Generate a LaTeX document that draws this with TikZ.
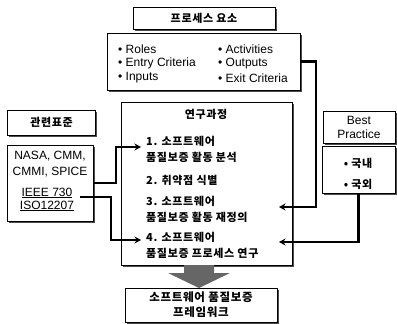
\documentclass[tikz,border=0pt]{standalone}
\usepackage{fontspec}
\setmainfont{Liberation Sans}
\newfontfamily\kr[LetterSpace=6]{Noto Sans CJK KR}
\usetikzlibrary{shadows,arrows.meta}
\begin{document}
\begin{tikzpicture}[x=1pt,y=-1pt,
 box/.style={draw=black, line width=0.7pt, fill=white, inner sep=0pt,
   general shadow={fill=black!70, shadow xshift=1.5pt, shadow yshift=-1.5pt}},
 conn/.style={line width=2.2pt, -{Stealth[length=6.5pt,width=7pt]}},
 txt/.style={font=\fontsize{12}{14}\selectfont, inner sep=0pt},
 ktxt/.style={font=\kr\bfseries\fontsize{11}{13}\selectfont, inner sep=0pt},
]
\useasboundingbox (0,0) rectangle (397,324);
% top boxes
\node[box, ktxt, minimum width=142pt, minimum height=22pt] (pe) at (204,18) {프로세스 요소};
\node[box, minimum width=193pt, minimum height=57pt] (el) at (203.5,61.5) {};
\node[txt, anchor=west] (e1) at (118,49) {• Roles};
\node[txt, anchor=west] (e2) at (118,63.5) {• Entry Criteria};
\node[txt, anchor=west] (e3) at (118,78) {• Inputs};
\node[txt, anchor=west] (e4) at (218,49) {• Activities};
\node[txt, anchor=west] (e5) at (218,63.5) {• Outputs};
\node[txt, anchor=west] (e6) at (218,78) {• Exit Criteria};
% research box
\node[box, minimum width=171pt, minimum height=163pt] (rp) at (206.5,183.5) {};
\node[ktxt] (rt) at (206,114) {연구과정};
\node[ktxt, anchor=west] (r1) at (146,141) {1. 소프트웨어};
\node[ktxt, anchor=west] (r1b) at (146,157) {품질보증 활동 분석};
\node[ktxt, anchor=west] (r2) at (146,180) {2. 취약점 식별};
\node[ktxt, anchor=west] (r3) at (146,201) {3. 소프트웨어};
\node[ktxt, anchor=west] (r3b) at (146,217) {품질보증 활동 재정의};
\node[ktxt, anchor=west] (r4) at (146,237) {4. 소프트웨어};
\node[ktxt, anchor=west] (r4b) at (146,253) {품질보증 프로세스 연구};
% left boxes
\node[box, ktxt, minimum width=88pt, minimum height=25pt] (rs) at (51.5,122.5) {관련표준};
\node[box, minimum width=86pt, minimum height=76pt] (std) at (50,183) {};
\node[txt] (s1) at (50,156) {NASA, CMM,};
\node[txt] (s2) at (50,172) {CMMI, SPICE};
\node[txt] (s3) at (47,193) {\underline{IEEE 730}};
\node[txt] (s4) at (47,206) {\underline{ISO12207}};
% right boxes
\node[box, minimum width=72pt, minimum height=32pt, align=center, txt] (bp) at (359,127) {Best\\[0pt]Practice};
\node[box, minimum width=73pt, minimum height=47pt] (kd) at (358.5,169.5) {};
\node[ktxt] (k1) at (358,163) {• 국내};
\node[ktxt] (k2) at (358,184) {• 국외};
% bottom box
\node[box, minimum width=152pt, minimum height=34pt, align=center, font=\kr\bfseries\fontsize{11.5}{15}\selectfont] (fw) at (201,305) {소프트웨어 품질보증\\프레임워크};
% connectors
\coordinate (ieee) at (80,197);
\coordinate (t1) at (141,147);
\coordinate (t2) at (141,240);
\coordinate (t3) at (279,207);
\coordinate (t4) at (279,242);
\draw[conn] (std.east) -| (116,147) -- (t1);
\draw[conn] (ieee) -| (111,240) -- (t2);
\draw[conn] (el.east) -| (316,207) -- (t3);
\draw[conn] (kd.south) |- (t4);
% big arrow
\fill[black!60] (184,265) -- (214,265) -- (214,273) -- (230,273) -- (199,288) -- (168,273) -- (184,273) -- cycle;
\end{tikzpicture}
\end{document}
